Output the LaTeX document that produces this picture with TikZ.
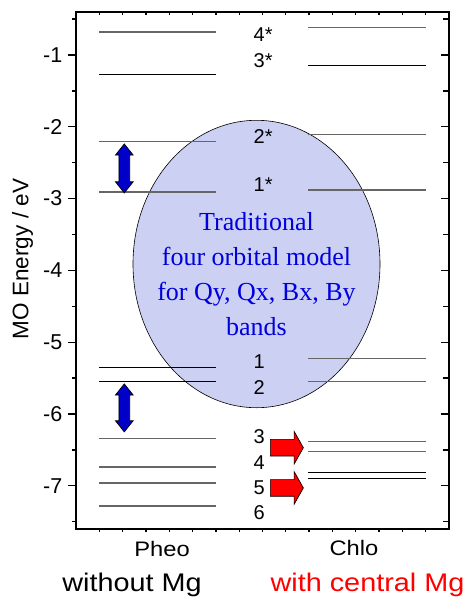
\documentclass[tikz,border=0pt]{standalone}
\usepackage{fontspec}
\setmainfont{Liberation Serif}
\setsansfont{Liberation Sans}
\newfontfamily\widesans{Liberation Sans}[FakeStretch=1.13]
\usetikzlibrary{shapes.geometric,shapes.arrows}

\definecolor{modelfill}{RGB}{204,208,243}
\definecolor{modelblue}{RGB}{0,0,220}
\definecolor{gapblue}{RGB}{0,0,200}

\begin{document}
\begin{tikzpicture}[x=1pt,y=1pt]

    \tikzstyle{frame}+=[
        line width = 1.3pt
    ]
    \tikzstyle{level}+=[
        line width = 1.3pt,
        black!60
    ]
    \tikzstyle{darklevel}+=[
        line width = 1pt,
        black
    ]
    \tikzstyle{model}+=[
        ellipse,
        draw,
        line width = 0.6pt,
        fill=modelfill,
        minimum width=247pt,
        minimum height=287.4pt,
        inner sep=0pt
    ]
    \tikzstyle{modellabel}+=[
        font=\fontsize{26}{35}\selectfont,
        text=modelblue,
        align=center
    ]
    \tikzstyle{ticklabel}+=[
        font=\sffamily\fontsize{21.5}{24}\selectfont,
        anchor=east,
        inner sep=0pt
    ]
    \tikzstyle{orbital}+=[
        font=\sffamily\fontsize{20}{24}\selectfont,
        anchor=west,
        inner sep=0pt
    ]
    \tikzstyle{gap}+=[
        double arrow,
        draw,
        line width = 0.7pt,
        fill=gapblue,
        rotate=90,
        minimum height=49pt,
        inner xsep=0pt,
        inner ysep=5pt,
        double arrow head extend=3.5pt,
        double arrow tip angle=77
    ]
    \tikzstyle{mgshift}+=[
        single arrow,
        draw,
        line width = 0.7pt,
        fill=red,
        minimum height=33pt,
        inner xsep=0pt,
        inner ysep=8pt,
        single arrow head extend=8pt,
        single arrow tip angle=121
    ]
    \tikzstyle{caption}+=[
        font=\widesans\fontsize{25.5}{28}\selectfont,
        anchor=base
    ]

    \useasboundingbox (0,0) rectangle (467,598);
    \fill[white] (0,0) rectangle (467,598);

    % ----------------------------------------------------------------------------
    \begin{scope}[yshift=614.8pt, y=71.8pt]

    \node[model] (model) at (256.5,-3.911) {};
    \node[modellabel] (modeltext) at ([yshift=-10.5pt]model.center) {Traditional\\four orbital model\\for Qy, Qx, Bx, By\\bands};

    % ----------------------------------------------------------------------------
    \foreach \e in {-0.68,-2.2,-2.91,-6.34,-6.74,-6.96,-7.28}
        \draw[level] (99.3,\e) -- (216,\e);
    \foreach \e in {-1.27,-5.35,-5.55}
        \draw[darklevel] (99.3,\e) -- (216,\e);
    \foreach \e in {-0.62,-2.11,-2.88,-5.23,-5.55,-6.38,-6.52}
        \draw[level] (308,\e) -- (426,\e);
    \foreach \e in {-1.14,-6.82,-6.90}
        \draw[darklevel] (308,\e) -- (426,\e);

    % ----------------------------------------------------------------------------
    \draw[frame] (76,-7.6) rectangle (449,-0.4);
    \foreach \i in {1,...,7} {
        \draw[frame] (68,-\i) -- (76,-\i);
        \draw[frame] (441,-\i) -- (449,-\i);
        \node[ticklabel] (tick\i) at (62.5,-\i) {-\i};
    }
    \foreach \e in {-0.5,-1.5,...,-7.5} {
        \draw[frame] (72,\e) -- (76,\e);
        \draw[frame] (443,\e) -- (449,\e);
    }
    \foreach \i in {1,...,15} {
        \draw[frame] ({76+23.3125*\i},-0.4) -- ++(0,-3pt);
        \draw[frame] ({76+23.3125*\i},-7.6) -- ++(0,-3pt);
    }

    % ----------------------------------------------------------------------------
    \foreach \t/\e [count=\k] in {4*/-0.721,3*/-1.079,2*/-2.138,1*/-2.81,1/-5.272,2/-5.628,3/-6.316,4/-6.673,5/-7.021,6/-7.369}
        \node[orbital] (mo\k) at (253.5,\e) {\t};

    % ----------------------------------------------------------------------------
    \node[gap] (gapup) at (124.3,-2.58) {};
    \node[gap,minimum height=48pt] (gapdown) at (124.3,-5.915) {};
    \node[mgshift] (shiftup) at (284.5,-6.47) {};
    \node[mgshift] (shiftdown) at (284.5,-7.03) {};

    % ----------------------------------------------------------------------------
    \node[font=\sffamily\fontsize{22.5}{24}\selectfont, rotate=90, anchor=base] (ytitle) at (28.3,-3.841) {MO Energy / eV};
    \node[caption,font=\widesans\fontsize{21}{24}\selectfont] (pheo) at (162,-7.987) {Pheo};
    \node[caption,font=\widesans\fontsize{21}{24}\selectfont] (chlo) at (354,-7.964) {Chlo};
    \node[caption] (nomg) at (132,-8.479) {without Mg};
    \node[caption,text=red] (withmg) at (367.5,-8.479) {with central Mg};

    \end{scope}

\end{tikzpicture}
\end{document}
